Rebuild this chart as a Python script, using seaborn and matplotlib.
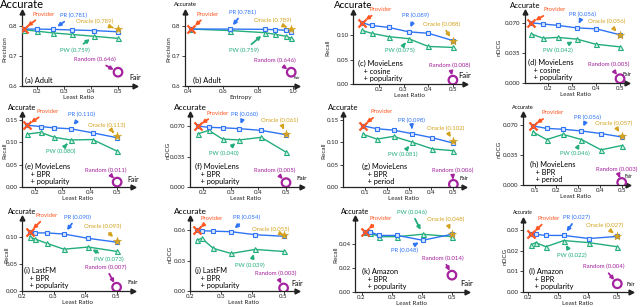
import matplotlib
matplotlib.use("Agg")
import matplotlib.pyplot as plt
import numpy as np
import pandas as pd
import seaborn as sns

sns.set_theme(style="white")
plt.rcParams["font.family"] = ["Lato", "DejaVu Sans"]

# ---------------- data ----------------
panel_titles = [
    "(a) Adult", "(b) Adult",
    "(c) MovieLens\n   + cosine\n   + popularity", "(d) MovieLens\n   + cosine\n   + popularity",
    "(e) MovieLens\n   + BPR\n   + popularity", "(f) MovieLens\n   + BPR\n   + popularity",
    "(g) MovieLens\n   + BPR\n   + period", "(h) MovieLens\n   + BPR\n   + period",
    "(i) LastFM\n   + BPR\n   + popularity", "(j) LastFM\n   + BPR\n   + popularity",
    "(k) Amazon\n   + BPR\n   + popularity", "(l) Amazon\n   + BPR\n   + popularity",
]
y_metrics = ["Precision", "Precision", "Recall", "nDCG", "Recall", "nDCG",
             "Recall", "nDCG", "Recall", "nDCG", "Recall", "nDCG"]
x_metrics = ["Least Ratio", "Entropy"] + ["Least Ratio"] * 10

x_a = [0.15, 0.20, 0.26, 0.33, 0.41, 0.50]
pr_a = [0.790, 0.790, 0.789, 0.787, 0.785, 0.781]
pw_a = [0.788, 0.783, 0.777, 0.772, 0.766, 0.759]

x_b = [0.42, 0.64, 0.84, 0.90, 0.96, 0.99]
pr_b = [0.790, 0.790, 0.789, 0.788, 0.786, 0.781]
pw_b = [0.790, 0.785, 0.778, 0.772, 0.766, 0.759]

x_c = [0.13, 0.17, 0.24, 0.32, 0.40, 0.50]
pr_c = [0.126, 0.120, 0.116, 0.107, 0.104, 0.089]
pw_c = [0.110, 0.104, 0.097, 0.093, 0.077, 0.075]

x_d = [0.13, 0.18, 0.24, 0.32, 0.40, 0.50]
pr_d = [0.070, 0.0685, 0.067, 0.064, 0.063, 0.056]
pw_d = [0.057, 0.052, 0.053, 0.051, 0.045, 0.042]

x_e = [0.17, 0.22, 0.27, 0.33, 0.41, 0.50]
pr_e = [0.138, 0.135, 0.132, 0.130, 0.121, 0.110]
pw_e = [0.118, 0.122, 0.111, 0.105, 0.106, 0.080]

x_f = [0.18, 0.22, 0.27, 0.33, 0.41, 0.50]
pr_f = [0.070, 0.0685, 0.068, 0.067, 0.065, 0.060]
pw_f = [0.061, 0.065, 0.055, 0.054, 0.057, 0.040]

x_g = [0.09, 0.155, 0.23, 0.315, 0.405, 0.50]
pr_g = [0.137, 0.130, 0.127, 0.119, 0.110, 0.098]
pw_g = [0.118, 0.107, 0.113, 0.100, 0.085, 0.081]

x_h = [0.09, 0.155, 0.23, 0.315, 0.405, 0.50]
pr_h = [0.069, 0.066, 0.065, 0.063, 0.060, 0.056]
pw_h = [0.062, 0.053, 0.059, 0.053, 0.041, 0.046]

x_i = [0.224, 0.24, 0.278, 0.333, 0.41, 0.50]
pr_i = [0.108, 0.107, 0.107, 0.105, 0.097, 0.090]
pw_i = [0.100, 0.096, 0.088, 0.077, 0.081, 0.073]

x_j = [0.222, 0.237, 0.275, 0.332, 0.409, 0.50]
pr_j = [0.060, 0.0595, 0.059, 0.0585, 0.0555, 0.054]
pw_j = [0.050, 0.052, 0.042, 0.037, 0.041, 0.039]

x_k = [0.211, 0.228, 0.259, 0.319, 0.403, 0.50]
pr_k = [0.050, 0.050, 0.047, 0.047, 0.043, 0.048]
pw_k = [0.050, 0.049, 0.046, 0.046, 0.048, 0.046]

x_l = [0.211, 0.226, 0.26, 0.32, 0.404, 0.50]
pr_l = [0.028, 0.028, 0.0275, 0.0275, 0.026, 0.027]
pw_l = [0.023, 0.024, 0.022, 0.025, 0.024, 0.022]

oracle_vals = [0.789, 0.789, 0.088, 0.056, 0.113, 0.061, 0.102, 0.057, 0.093, 0.055, 0.048, 0.027]
random_vals = [0.646, 0.646, 0.008, 0.005, 0.011, 0.005, 0.006, 0.003, 0.007, 0.003, 0.014, 0.004]
pr_tags = [0.781, 0.781, 0.089, 0.056, 0.110, 0.060, 0.098, 0.056, 0.090, 0.054, 0.048, 0.027]
pw_tags = [0.759, 0.759, 0.075, 0.042, 0.080, 0.040, 0.081, 0.046, 0.073, 0.039, 0.046, 0.022]

xticks_lr = [0.2, 0.3, 0.4, 0.5]
xticks_lr10 = [0.1, 0.2, 0.3, 0.4, 0.5]
xticks_ent = [0.4, 0.6, 0.8, 1.0]
yticks_prec = [0.6, 0.7, 0.8]
yticks_rec3 = [0.00, 0.05, 0.10]
yticks_rec4 = [0.00, 0.05, 0.10, 0.15]
yticks_ndcg = [0.000, 0.035, 0.070]
yticks_j = [0.00, 0.03, 0.06]
yticks_k = [0.00, 0.02, 0.04]
yticks_l = [0.00, 0.01, 0.02, 0.03]

xs = [x_a, x_b, x_c, x_d, x_e, x_f, x_g, x_h, x_i, x_j, x_k, x_l]
prs = [pr_a, pr_b, pr_c, pr_d, pr_e, pr_f, pr_g, pr_h, pr_i, pr_j, pr_k, pr_l]
pws = [pw_a, pw_b, pw_c, pw_d, pw_e, pw_f, pw_g, pw_h, pw_i, pw_j, pw_k, pw_l]
xticks_all = [xticks_lr, xticks_ent, xticks_lr, xticks_lr, xticks_lr, xticks_lr,
              xticks_lr10, xticks_lr10, xticks_lr, xticks_lr, xticks_lr, xticks_lr]
yticks_all = [yticks_prec, yticks_prec, yticks_rec3, yticks_ndcg, yticks_rec4, yticks_ndcg,
              yticks_rec4, yticks_ndcg, yticks_rec3, yticks_j, yticks_k, yticks_l]
yfmt = ["{:.1f}", "{:.1f}", "{:.2f}", "{:.3f}", "{:.2f}", "{:.3f}",
        "{:.2f}", "{:.3f}", "{:.2f}", "{:.2f}", "{:.2f}", "{:.2f}"]

# ---------------- layout / style ----------------
W, H = 640, 307
# (left, right, bottom, top) in pixels ; xlim ; ylim
geom = [
    ((22, 135, 86, 12), (0.144, 0.563), (0.6, 0.847)),
    ((185, 297, 86, 12), (0.383, 1.023), (0.6, 0.847)),
    ((353, 465, 84, 12), (0.095, 0.549), (0.0, 0.1476)),
    ((525, 627, 83, 12), (0.104, 0.529), (0.0, 0.0825)),
    ((22, 133, 187, 114), (0.152, 0.558), (0.0, 0.163)),
    ((190, 302, 187, 114), (0.152, 0.558), (0.0, 0.0838)),
    ((343, 464, 187, 114), (0.002, 0.548), (0.0, 0.163)),
    ((523, 628, 185, 114), (0.046, 0.529), (0.0, 0.0828)),
    ((22, 133, 291, 218), (0.2, 0.552), (0.0, 0.1345)),
    ((190, 297, 291, 218), (0.2, 0.543), (0.0, 0.072)),
    ((355, 467, 292, 218), (0.178, 0.55), (0.0, 0.0615)),
    ((523, 631, 292, 220), (0.183, 0.546), (0.0, 0.035)),
]
acc_size = [8.0, 4.2, 7.0, 5.6, 5.2, 6.0, 5.6, 4.0, 5.2, 6.0, 5.2, 3.6]
fair_size = [5.0, 2.9, 5.5, 3.8, 5.0, 4.5, 3.8, 3.3, 4.5, 5.0, 5.5, 3.7]
ylabel_px = [5, 169, 328, 499, 5, 168, 324, 499, 7, 170, 336, 505]
title_dx = [3, 8, 5, 3, 3, 5, 19, 7, 2, 5, 7, 6]
pr_idx = [2, 1, 3, 3, 3, 3, 3, 3, 3, 3, 4, 3]
pw_idx = [4, 2, 3, 3, 3, 3, 3, 3, 4, 4, 4, 3]
# offsets (pixels) of labels: provider, pr, oracle, pw, random
offs = [
    [(20, 15), (20, 14), (-23, 8), (-19, -14), (-23, 13)],
    [(16, 15), (13, 17), (-19, 9), (-21, -18), (-16, 12)],
    [(19, 13), (7, 16), (-11, 17), (-9, -12), (-3, 15)],
    [(23, 13), (6, 13), (-13, 13), (-19, -11), (-11, 14)],
    [(21, 14), (11, 14), (-10, 11), (-10, -11), (-11, 12)],
    [(20, 13), (5, 14), (-6, 13), (-15, -13), (-11, 12)],
    [(19, 14), (-1, 13), (-8, 13), (-10, -12), (-1, 14)],
    [(20, 13), (6, 14), (-8, 13), (-7, -14), (-5, 13)],
    [(17, 17), (13, 17), (-14, 14), (21, -12), (-11, 20)],
    [(15, 12), (15, 14), (-13, 6), (-5, -16), (-8, 15)],
    [(16, 13), (-18, -10), (-6, 15), (-11, 22), (-9, 17)],
    [(17, 16), (13, 18), (-13, 11), (8, -15), (-14, 17)],
]

C_PROV = "#FF5722"
C_PR = "#2F74F5"
C_PW = "#23AD7B"
C_OR = "#D4A21E"
C_RAND = "#A4229E"
C_AX = "#222222"

ANN_FS = 4.3
TICK_FS = 4.4
LAB_FS = 4.6

fig = plt.figure(figsize=(W / 100, H / 100), dpi=100)


def annot(ax, txt, xy, off, color):
    ax.annotate(txt, xy=xy, xycoords="data", xytext=off, textcoords="offset pixels",
                ha="center", va="center", fontsize=ANN_FS, color=color, zorder=10,
                arrowprops=dict(arrowstyle="-|>", color=color, lw=1.3,
                                mutation_scale=5, shrinkA=0.5, shrinkB=3.5))


for i in range(12):
    (l, r, b, t), xl, yl = geom[i]
    ax = fig.add_axes([l / W, 1 - b / H, (r - l) / W, (b - t) / H])
    ax.set_facecolor("none")
    x = xs[i]
    sns.lineplot(x=x, y=pws[i], ax=ax, color=C_PW, marker="^", markersize=3.6,
                 markerfacecolor="#d4f2e6", markeredgecolor=C_PW, markeredgewidth=0.8,
                 lw=1.0, zorder=3)
    sns.lineplot(x=x, y=prs[i], ax=ax, color=C_PR, marker="s", markersize=3.4,
                 markerfacecolor="#d6e4ff", markeredgecolor=C_PR, markeredgewidth=0.8,
                 lw=1.0, zorder=4)
    sns.scatterplot(x=[x[-1]], y=[oracle_vals[i]], ax=ax, marker="*", s=40,
                    color=C_OR, edgecolor=C_OR, linewidth=0.3, zorder=5)
    sns.scatterplot(x=[x[-1]], y=[random_vals[i]], ax=ax, marker="o", s=38,
                    facecolor="none", edgecolor=C_RAND, linewidth=1.6, zorder=5)
    sns.scatterplot(x=[x[0]], y=[prs[i][0]], ax=ax, marker="x", s=34,
                    color=C_PROV, linewidth=1.6, zorder=6)

    ax.set_xlim(*xl)
    ax.set_ylim(*yl)
    ax.set_xticks(xticks_all[i])
    ax.set_xticklabels([f"{v:.1f}" for v in xticks_all[i]])
    ax.set_yticks(yticks_all[i])
    ax.set_yticklabels([yfmt[i].format(v) for v in yticks_all[i]])
    ax.tick_params(axis="both", labelsize=TICK_FS, length=2, width=0.6, pad=1,
                   colors=C_AX, bottom=True, left=True)
    ax.tick_params(axis="x", pad=0.5)
    for s in ["top", "right"]:
        ax.spines[s].set_visible(False)
    for s in ["left", "bottom"]:
        ax.spines[s].set_color(C_AX)
        ax.spines[s].set_linewidth(0.9)
    ax.set_xlabel(x_metrics[i], fontsize=LAB_FS, labelpad=0.5, color=C_AX)
    ax.set_ylabel(y_metrics[i], fontsize=LAB_FS, color=C_AX)
    ax.yaxis.set_label_coords((ylabel_px[i] - l) / (r - l), 0.5)
    ax.yaxis.label.set_va("center")
    ax.grid(False)
    # arrow heads on axes
    ax.plot(1, 0, ">", color=C_AX, ms=3.5, transform=ax.transAxes, clip_on=False)
    ax.plot(0, 1, "^", color=C_AX, ms=3.5, transform=ax.transAxes, clip_on=False)
    ax.annotate("Accurate", xy=(0, 1), xycoords="axes fraction", xytext=(0, 7),
                textcoords="offset pixels", ha="center", va="center",
                fontsize=acc_size[i], color="black")
    ax.annotate("Fair", xy=(1, 0), xycoords="axes fraction", xytext=(0, 8),
                textcoords="offset pixels", ha="center", va="center",
                fontsize=fair_size[i], color="black")
    ax.annotate(panel_titles[i], xy=(0, 0), xycoords="axes fraction",
                xytext=(title_dx[i], 2), textcoords="offset pixels",
                ha="left", va="bottom", fontsize=5.3, linespacing=1.05, color="black")

    o = offs[i]
    annot(ax, "Provider", (x[0], prs[i][0]), o[0], C_PROV)
    annot(ax, f"PR ({pr_tags[i]:.3f})", (x[pr_idx[i]], prs[i][pr_idx[i]]), o[1], C_PR)
    annot(ax, f"Oracle ({oracle_vals[i]:.3f})", (x[-1], oracle_vals[i]), o[2], C_OR)
    annot(ax, f"PW ({pw_tags[i]:.3f})", (x[pw_idx[i]], pws[i][pw_idx[i]]), o[3], C_PW)
    annot(ax, f"Random ({random_vals[i]:.3f})", (x[-1], random_vals[i]), o[4], C_RAND)

fig.savefig("out.png", dpi=100)
